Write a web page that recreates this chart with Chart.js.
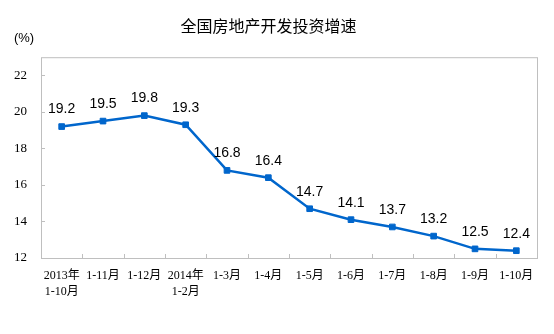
<!DOCTYPE html>
<html>
<head>
<meta charset="utf-8">
<script src="https://cdn.jsdelivr.net/npm/chart.js@4"></script>
<style>
  html, body { margin: 0; padding: 0; background: #fff; }
  #wrap { width: 554px; height: 334px; }
</style>
</head>
<body>
<div id="wrap"><canvas id="chart"></canvas></div>
<script>
const months = [
  ["2013年", "1-10月"], "1-11月", "1-12月", ["2014年", "1-2月"], "1-3月", "1-4月",
  "1-5月", "1-6月", "1-7月", "1-8月", "1-9月", "1-10月"
];
const growth = [19.2, 19.5, 19.8, 19.3, 16.8, 16.4, 14.7, 14.1, 13.7, 13.2, 12.5, 12.4];
const yTicks = [12, 14, 16, 18, 20, 22];

const lineColor = "#0066cc";
const frameColor = "#bfbfbf";
const serif = "'Liberation Serif', 'Times New Roman', 'Noto Sans CJK SC', serif";

// box around the plot area plus short inward tick marks
const framePlugin = {
  id: "frame",
  beforeDatasetsDraw(chart) {
    const { ctx, chartArea: a, scales } = chart;
    ctx.save();
    ctx.strokeStyle = frameColor;
    ctx.lineWidth = 1;
    ctx.strokeRect(a.left + 0.5, a.top + 0.5, a.right - a.left, a.bottom - a.top);
    ctx.beginPath();
    yTicks.forEach(v => {
      const y = Math.round(scales.y.getPixelForValue(v)) + 0.5;
      ctx.moveTo(a.left, y);
      ctx.lineTo(a.left + 4, y);
    });
    for (let i = 1; i < months.length; i++) {
      const x = Math.round((scales.x.getPixelForValue(i - 1) + scales.x.getPixelForValue(i)) / 2) + 0.5;
      ctx.moveTo(x, a.bottom);
      ctx.lineTo(x, a.bottom - 4);
    }
    ctx.stroke();
    ctx.restore();
  },
  afterDraw(chart) {
    const { ctx } = chart;
    ctx.save();
    ctx.fillStyle = "#000";
    ctx.font = "13px 'Liberation Sans', 'Noto Sans CJK SC', sans-serif";
    ctx.textAlign = "center";
    ctx.textBaseline = "middle";
    ctx.fillText("(%)", 24, 38);
    ctx.restore();
  }
};

// value labels above each point
const valueLabels = {
  id: "valueLabels",
  afterDatasetsDraw(chart) {
    const { ctx } = chart;
    const meta = chart.getDatasetMeta(0);
    ctx.save();
    ctx.fillStyle = "#000";
    ctx.font = "14px 'Liberation Sans', Arial, sans-serif";
    ctx.textAlign = "center";
    ctx.textBaseline = "middle";
    meta.data.forEach((pt, i) => {
      ctx.fillText(growth[i].toFixed(1), pt.x, pt.y - 17);
    });
    ctx.restore();
  }
};

new Chart(document.getElementById("chart"), {
  type: "line",
  data: {
    labels: months,
    datasets: [{
      data: growth,
      borderColor: lineColor,
      backgroundColor: lineColor,
      borderWidth: 2.5,
      tension: 0,
      pointStyle: "rect",
      pointRadius: 4,
      pointBorderWidth: 1,
      pointBackgroundColor: lineColor,
      pointBorderColor: lineColor
    }]
  },
  options: {
    responsive: true,
    maintainAspectRatio: false,
    animation: false,
    layout: { padding: { left: 0, right: 17, top: 0, bottom: 0 } },
    plugins: {
      legend: { display: false },
      tooltip: { enabled: false },
      title: {
        display: true,
        text: "全国房地产开发投资增速",
        color: "#000",
        font: { family: "'Noto Sans CJK SC', sans-serif", size: 16, weight: "normal" },
        padding: { top: 16, bottom: 22 }
      }
    },
    scales: {
      x: {
        offset: true,
        grid: { display: false, drawTicks: false },
        border: { display: false },
        ticks: {
          color: "#000",
          font: { family: serif, size: 12, lineHeight: 1.35 },
          padding: 10,
          maxRotation: 0,
          autoSkip: false
        },
        afterFit(scale) { scale.height = 76; }
      },
      y: {
        min: 12,
        max: 23,
        afterBuildTicks(scale) { scale.ticks = yTicks.map(v => ({ value: v })); },
        grid: { display: false, drawTicks: false },
        border: { display: false },
        ticks: {
          color: "#000",
          font: { family: serif, size: 13 },
          padding: 14
        },
        afterFit(scale) { scale.width = 41; }
      }
    }
  },
  plugins: [framePlugin, valueLabels]
});
</script>
</body>
</html>
